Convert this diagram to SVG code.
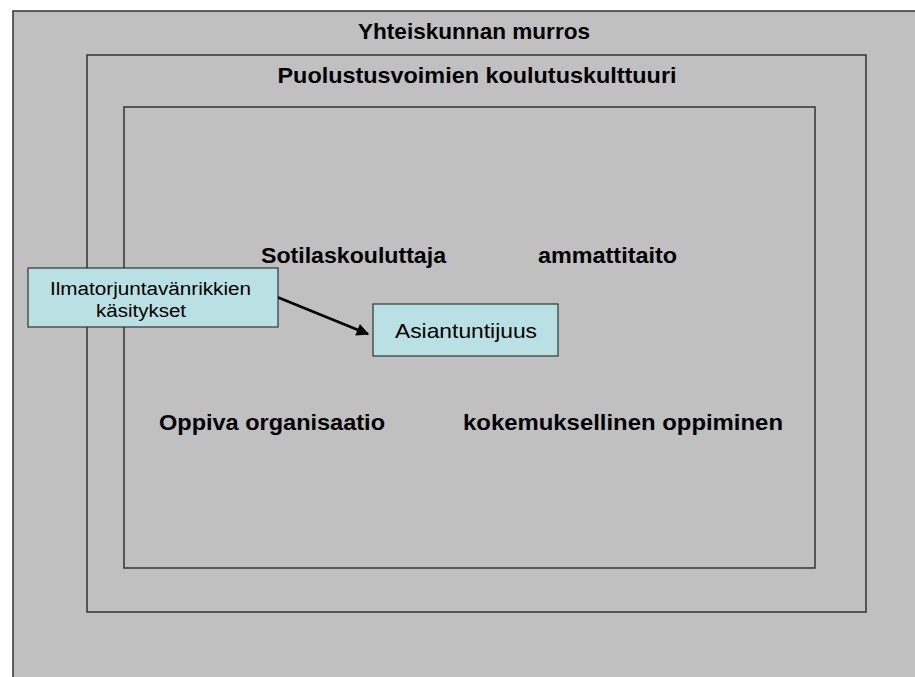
<svg xmlns="http://www.w3.org/2000/svg" width="915" height="677" viewBox="0 0 915 677">
<defs>
<style>
.frame{fill:#C0C0C0;stroke:#333333;stroke-width:1.5}
.title{font-family:"Liberation Sans",Arial,sans-serif;font-weight:bold;font-size:22px;fill:#000;text-anchor:middle}
.lbl{font-family:"Liberation Sans",Arial,sans-serif;font-weight:bold;font-size:22px;fill:#000}
.box{fill:#B9E0E3;stroke:#333333;stroke-width:1.2}
.bt{font-family:"Liberation Sans",Arial,sans-serif;fill:#000}
</style>
<marker id="ah" viewBox="0 0 10 10" refX="9" refY="5" markerWidth="5.5" markerHeight="5" orient="auto" markerUnits="strokeWidth">
<path d="M0,0 L10,5 L0,10 z" fill="#000"/>
</marker>
</defs>
<rect width="915" height="677" fill="#FFFFFF"/>
<g id="outer">
<rect class="frame" x="13" y="11" width="920" height="700"/>
<text class="title" x="474" y="39" textLength="232" lengthAdjust="spacingAndGlyphs">Yhteiskunnan murros</text>
</g>
<g id="middle">
<rect class="frame" x="87" y="55" width="779" height="557"/>
<text class="title" x="477" y="83" textLength="399" lengthAdjust="spacingAndGlyphs">Puolustusvoimien koulutuskulttuuri</text>
</g>
<g id="inner">
<rect class="frame" x="124" y="107" width="691" height="461"/>
</g>
<g id="sotilaskouluttaja"><text class="lbl" x="261" y="263" textLength="185" lengthAdjust="spacingAndGlyphs">Sotilaskouluttaja</text></g>
<g id="ammattitaito"><text class="lbl" x="538" y="263" textLength="139" lengthAdjust="spacingAndGlyphs">ammattitaito</text></g>
<g id="oppiva"><text class="lbl" x="159" y="430" textLength="226" lengthAdjust="spacingAndGlyphs">Oppiva organisaatio</text></g>
<g id="kokemuksellinen"><text class="lbl" x="463" y="430" textLength="320" lengthAdjust="spacingAndGlyphs">kokemuksellinen  oppiminen</text></g>
<g id="connectors">
<line x1="277" y1="297" x2="368" y2="334" stroke="#000" stroke-width="2.5" marker-end="url(#ah)"/>
</g>
<g id="ilmatorjunta">
<rect class="box" x="28" y="268" width="250" height="59"/>
<text class="bt" x="50" y="295" font-size="18" textLength="201" lengthAdjust="spacingAndGlyphs">Ilmatorjuntavänrikkien</text>
<text class="bt" x="96" y="317" font-size="18" textLength="90" lengthAdjust="spacingAndGlyphs">käsitykset</text>
</g>
<g id="asiantuntijuus">
<rect class="box" x="373" y="304" width="185" height="52"/>
<text class="bt" x="395" y="338" font-size="21" textLength="142" lengthAdjust="spacingAndGlyphs">Asiantuntijuus</text>
</g>
</svg>
